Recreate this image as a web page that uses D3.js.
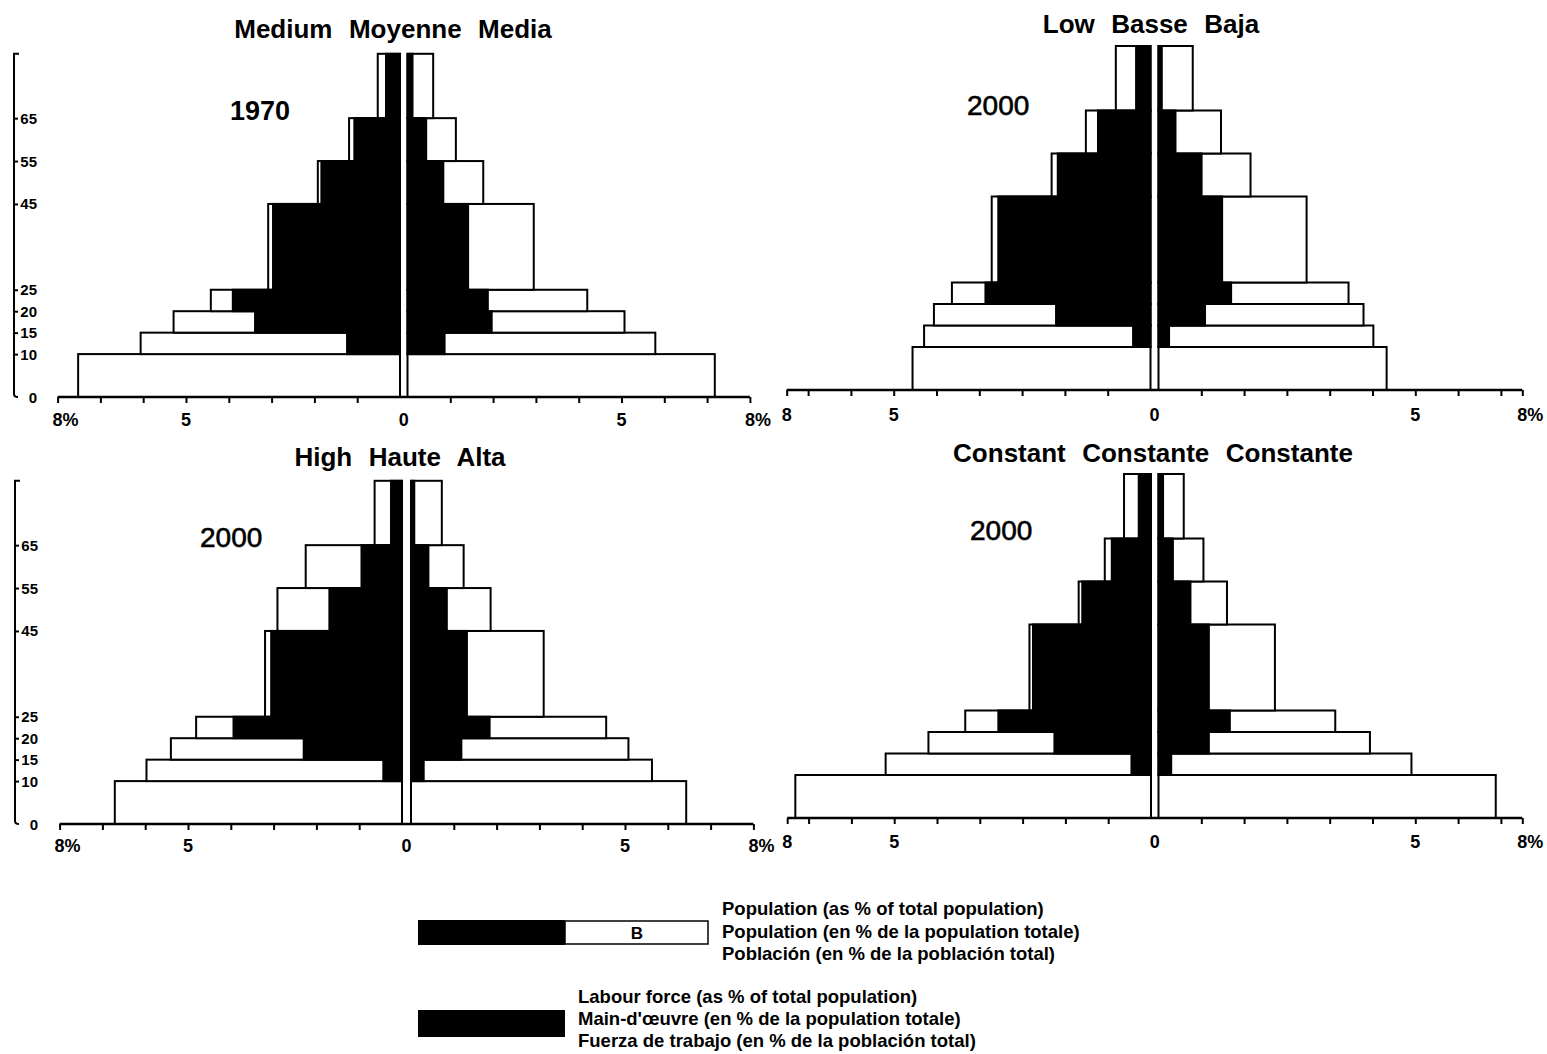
<!DOCTYPE html>
<html><head><meta charset="utf-8">
<script src="https://cdn.jsdelivr.net/npm/d3@7"></script>
<style>
body{margin:0;background:#fff;}
svg{display:block;}
text{font-family:"Liberation Sans",Arial,Helvetica,sans-serif;fill:#000;}
</style></head><body>
<svg id="chart" width="1547" height="1054"></svg>
<script>
// ---------------- DATA ----------------
const ageBounds = [0, 10, 15, 20, 25, 45, 55, 65, 80];
const ageGroups = ["0-10", "10-15", "15-20", "20-25", "25-45", "45-55", "55-65", "65+"];
const yTickValues = [0, 10, 15, 20, 25, 45, 55, 65];
const yTickLabels = ["0", "10", "15", "20", "25", "45", "55", "65"];

// Medium / Moyenne / Media, 1970 (population per age group, % of total; labour force)
const mediumPopL = [7.52, 6.06, 5.29, 4.42, 3.08, 1.92, 1.19, 0.52];
const mediumLabL = [0, 1.26, 3.41, 3.93, 2.99, 1.86, 1.09, 0.35];
const mediumPopR = [7.18, 5.79, 5.07, 4.20, 2.95, 1.77, 1.13, 0.60];
const mediumLabR = [0, 0.89, 1.99, 1.90, 1.44, 0.86, 0.46, 0.14];

// Low / Basse / Baja, 2000
const lowPopL = [5.56, 5.29, 5.06, 4.64, 3.71, 2.31, 1.51, 0.81];
const lowLabL = [0, 0.43, 2.23, 3.88, 3.58, 2.19, 1.25, 0.36];
const lowPopR = [5.33, 5.02, 4.79, 4.44, 3.46, 2.15, 1.46, 0.80];
const lowLabR = [0, 0.27, 1.11, 1.72, 1.51, 1.03, 0.42, 0.10];

// High / Haute / Alta, 2000
const highPopL = [6.71, 5.97, 5.40, 4.81, 3.20, 2.91, 2.25, 0.64];
const highLabL = [0, 0.46, 2.32, 3.96, 3.08, 1.72, 0.97, 0.28];
const highPopR = [6.43, 5.63, 5.08, 4.56, 3.10, 1.86, 1.23, 0.72];
const highLabR = [0, 0.32, 1.20, 1.86, 1.33, 0.86, 0.43, 0.10];

// Constant / Constante / Constante, 2000
const constPopL = [8.31, 6.20, 5.20, 4.34, 2.84, 1.69, 1.08, 0.63];
const constLabL = [0, 0.48, 2.28, 3.59, 2.78, 1.63, 0.94, 0.31];
const constPopR = [7.88, 5.91, 4.94, 4.13, 2.72, 1.60, 1.05, 0.59];
const constLabR = [0, 0.32, 1.20, 1.69, 1.20, 0.77, 0.36, 0.13];

// x tick labels (value on each half, text)
const xTickLabelsA = [{side: "L", v: 8, t: "8%"}, {side: "L", v: 5, t: "5"}, {side: "C", v: 0, t: "0"}, {side: "R", v: 5, t: "5"}, {side: "R", v: 8, t: "8%"}];
const xTickLabelsB = [{side: "L", v: 8.5, t: "8"}, {side: "L", v: 6, t: "5"}, {side: "C", v: 0, t: "0"}, {side: "R", v: 6, t: "5"}, {side: "R", v: 8.5, t: "8%"}];
const xTickValuesA = [1, 2, 3, 4, 5, 6, 7, 8];
const xTickValuesB = [1, 2, 3, 4, 5, 6, 7, 8, 8.5];

const titles = ["Medium  Moyenne  Media", "Low  Basse  Baja", "High  Haute  Alta", "Constant  Constante  Constante"];
const years = ["1970", "2000", "2000", "2000"];

const legendPopLines = ["Population (as % of total population)", "Population (en % de la population totale)", "Población (en % de la población total)"];
const legendLabLines = ["Labour force (as % of total population)", "Main-d'œuvre (en % de la population totale)", "Fuerza de trabajo (en % de la población total)"];

// ---------------- LAYOUT ----------------
const panels = [
  {title: titles[0], year: years[0], yearBold: true, popL: mediumPopL, labL: mediumLabL, popR: mediumPopR, labR: mediumLabR,
   left0: 400, right0: 407.5, k: 42.8, yBase: 397, ky: 4.29, axisEnd: 8, ticks: xTickValuesA, labels: xTickLabelsA,
   yAxisX: 14, titleX: 393, titleY: 38, yearX: 230, yearY: 120, labelY: 426},
  {title: titles[1], year: years[1], yearBold: false, popL: lowPopL, labL: lowLabL, popR: lowPopR, labR: lowLabR,
   left0: 1150.5, right0: 1158.5, k: 42.8, yBase: 390, ky: 4.3, axisEnd: 8.5, ticks: xTickValuesB, labels: xTickLabelsB,
   yAxisX: null, titleX: 1151, titleY: 33, yearX: 967, yearY: 115, labelY: 421},
  {title: titles[2], year: years[2], yearBold: false, popL: highPopL, labL: highLabL, popR: highPopR, labR: highLabR,
   left0: 402, right0: 411, k: 42.8, yBase: 824, ky: 4.29, axisEnd: 8, ticks: xTickValuesA, labels: xTickLabelsA,
   yAxisX: 15, titleX: 400, titleY: 466, yearX: 200, yearY: 547, labelY: 852},
  {title: titles[3], year: years[3], yearBold: false, popL: constPopL, labL: constLabL, popR: constPopR, labR: constLabR,
   left0: 1151, right0: 1158.5, k: 42.8, yBase: 818, ky: 4.3, axisEnd: 8.5, ticks: xTickValuesB, labels: xTickLabelsB,
   yAxisX: null, titleX: 1153, titleY: 462, yearX: 970, yearY: 540, labelY: 848}
];

const svg = d3.select("#chart");

panels.forEach(p => {
  const g = svg.append("g");
  const xL = d3.scaleLinear().domain([0, 8]).range([p.left0, p.left0 - 8 * p.k]);
  const xR = d3.scaleLinear().domain([0, 8]).range([p.right0, p.right0 + 8 * p.k]);
  const y = d3.scaleLinear().domain([0, 80]).range([p.yBase, p.yBase - 80 * p.ky]);
  const center = (p.left0 + p.right0) / 2;

  const rows = ageGroups.map((a, i) => ({a, i, y0: ageBounds[i], y1: ageBounds[i + 1],
    popL: p.popL[i], labL: p.labL[i], popR: p.popR[i], labR: p.labR[i]}));

  // white population bars
  g.selectAll("rect.popL").data(rows).join("rect").attr("class", "popL")
    .attr("x", d => xL(d.popL)).attr("width", d => xL(0) - xL(d.popL))
    .attr("y", d => y(d.y1)).attr("height", d => y(d.y0) - y(d.y1))
    .attr("fill", "#fff").attr("stroke", "#000").attr("stroke-width", 2);
  g.selectAll("rect.popR").data(rows).join("rect").attr("class", "popR")
    .attr("x", xR(0)).attr("width", d => xR(d.popR) - xR(0))
    .attr("y", d => y(d.y1)).attr("height", d => y(d.y0) - y(d.y1))
    .attr("fill", "#fff").attr("stroke", "#000").attr("stroke-width", 2);
  // black labour force bars
  g.selectAll("rect.labL").data(rows.filter(d => d.labL > 0)).join("rect").attr("class", "labL")
    .attr("x", d => xL(d.labL)).attr("width", d => xL(0) - xL(d.labL) + 1)
    .attr("y", d => y(d.y1) - 1).attr("height", d => y(d.y0) - y(d.y1) + 2)
    .attr("fill", "#000");
  g.selectAll("rect.labR").data(rows.filter(d => d.labR > 0)).join("rect").attr("class", "labR")
    .attr("x", xR(0) - 1).attr("width", d => xR(d.labR) - xR(0) + 1)
    .attr("y", d => y(d.y1) - 1).attr("height", d => y(d.y0) - y(d.y1) + 2)
    .attr("fill", "#000");

  // x axis line
  g.append("line").attr("x1", xL(p.axisEnd)).attr("x2", xR(p.axisEnd))
    .attr("y1", p.yBase).attr("y2", p.yBase).attr("stroke", "#000").attr("stroke-width", 2.5);
  const axL = g.append("g").attr("transform", `translate(0,${p.yBase})`)
    .call(d3.axisBottom(xL).tickValues(p.ticks).tickSize(6).tickFormat(() => ""));
  const axR = g.append("g").attr("transform", `translate(0,${p.yBase})`)
    .call(d3.axisBottom(xR).tickValues(p.ticks).tickSize(6).tickFormat(() => ""));
  [axL, axR].forEach(ax => {
    ax.select(".domain").remove();
    ax.selectAll(".tick line").attr("stroke", "#000").attr("stroke-width", 2);
  });
  // x labels
  g.selectAll("text.xl").data(p.labels).join("text").attr("class", "xl")
    .attr("x", d => d.side === "L" ? xL(d.v) : d.side === "R" ? xR(d.v) : center)
    .attr("dx", d => d.t.endsWith("%") ? 8 : 0)
    .attr("y", p.labelY).attr("text-anchor", "middle")
    .attr("font-size", 18).attr("font-weight", "bold").text(d => d.t);

  // y axis
  if (p.yAxisX !== null) {
    const ax = p.yAxisX;
    g.append("path")
      .attr("d", `M${ax + 5},${y(80)} L${ax},${y(80)} L${ax},${y(0) - 3} Q${ax},${y(0)} ${ax + 4},${y(0)}`)
      .attr("fill", "none").attr("stroke", "#000").attr("stroke-width", 2);
    const yax = g.append("g").attr("transform", `translate(${ax},0)`)
      .call(d3.axisRight(y).tickValues(yTickValues.filter(v => v > 0)).tickSize(4).tickFormat(() => ""));
    yax.select(".domain").remove();
    yax.selectAll(".tick line").attr("stroke", "#000").attr("stroke-width", 2);
    g.selectAll("text.yl").data(yTickValues).join("text").attr("class", "yl")
      .attr("x", ax + 23).attr("y", v => y(v) + 5.5).attr("text-anchor", "end")
      .attr("font-size", 15).attr("font-weight", "bold")
      .text((v, i) => yTickLabels[i]);
  }

  // title
  g.append("text").attr("x", p.titleX).attr("y", p.titleY).attr("text-anchor", "middle")
    .attr("font-size", 26).attr("font-weight", "bold").attr("word-spacing", 1)
    .style("white-space", "pre").text(p.title);
  // year
  g.append("text").attr("x", p.yearX).attr("y", p.yearY)
    .attr("font-size", p.yearBold ? 27 : 28).attr("font-weight", p.yearBold ? "bold" : "normal")
    .attr("stroke", p.yearBold ? "none" : "#000").attr("stroke-width", 0.6)
    .text(p.year);
});

// ---------------- LEGEND ----------------
const lg = svg.append("g");
lg.append("rect").attr("x", 418).attr("y", 920).attr("width", 147).attr("height", 25).attr("fill", "#000");
lg.append("rect").attr("x", 565).attr("y", 921).attr("width", 143).attr("height", 23)
  .attr("fill", "#fff").attr("stroke", "#000").attr("stroke-width", 1.5);
lg.append("text").attr("x", 637).attr("y", 939).attr("text-anchor", "middle")
  .attr("font-size", 17).attr("font-weight", "bold").text("B");
lg.selectAll("text.lp").data(legendPopLines).join("text").attr("class", "lp")
  .attr("x", 722).attr("y", (d, i) => 915 + i * 22.5)
  .attr("font-size", 18.5).attr("font-weight", "bold").text(d => d);
lg.append("rect").attr("x", 418).attr("y", 1010).attr("width", 147).attr("height", 27).attr("fill", "#000");
lg.selectAll("text.ll").data(legendLabLines).join("text").attr("class", "ll")
  .attr("x", 578).attr("y", (d, i) => 1003 + i * 22)
  .attr("font-size", 18.5).attr("font-weight", "bold").text(d => d);
</script>
</body></html>
